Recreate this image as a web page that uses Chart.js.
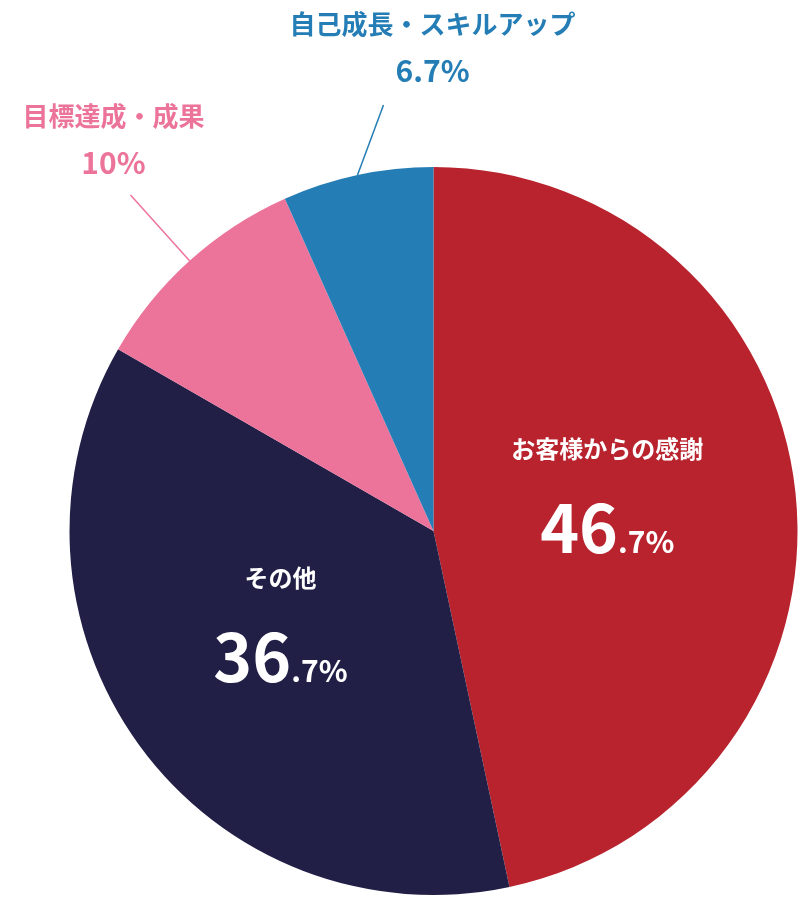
<!DOCTYPE html>
<html lang="ja">
<head>
<meta charset="UTF-8">
<title>Pie</title>
<script src="https://cdn.jsdelivr.net/npm/chart.js"></script>
<style>
  body { margin: 0; background: #fff; }
  #wrap { width: 799px; height: 897px; }
</style>
</head>
<body>
<div id="wrap"><canvas id="pie" width="799" height="897"></canvas></div>
<script>
const categories = ['お客様からの感謝', 'その他', '目標達成・成果', '自己成長・スキルアップ'];
const values = [46.7, 36.7, 10, 6.7];
const valueLabels = ['46.7%', '36.7%', '10%', '6.7%'];
const colors = ['#b8232e', '#221f47', '#ec749b', '#247db5'];

const FONT = '"Noto Sans CJK JP", "Noto Sans", sans-serif';

// inside label: title + big integer part + smaller decimal part
function insideLabel(ctx, x, y, title, val) {
    ctx.fillStyle = '#fff';
    ctx.textBaseline = 'alphabetic';
    ctx.textAlign = 'center';
    ctx.font = 'bold 24px ' + FONT;
    ctx.fillText(title, x, y - 55);
    const dot = val.indexOf('.');
    const big = val.slice(0, dot), small = val.slice(dot);
    ctx.font = 'bold 66px ' + FONT;
    const wb = ctx.measureText(big).width;
    ctx.font = 'bold 30px ' + FONT;
    const ws = ctx.measureText(small).width;
    const left = x - (wb + ws) / 2;
    ctx.textAlign = 'left';
    ctx.font = 'bold 66px ' + FONT;
    ctx.fillText(big, left, y + 40);
    ctx.font = 'bold 30px ' + FONT;
    ctx.fillText(small, left + wb, y + 40);
}

const labelPlugin = {
    id: 'labels',
    afterDraw(chart) {
        const ctx = chart.ctx;
        const arcs = chart.getDatasetMeta(0).data;
        const cx = arcs[0].x, cy = arcs[0].y, r = arcs[0].outerRadius;
        ctx.save();
        [[0, 0.48, 0.0], [1, 0.52, 0.0]].forEach(([i, f]) => {
            const a = arcs[i];
            const mid = (a.startAngle + a.endAngle) / 2;
            insideLabel(ctx, cx + Math.cos(mid) * r * f, cy + Math.sin(mid) * r * f, categories[i], valueLabels[i]);
        });
        // outside labels with leader lines
        const outside = [
            { i: 2, end: [cx - 303, cy - 336], tx: cx - 320, ty: cy - 405 },
            { i: 3, end: [cx - 50, cy - 426], tx: cx - 1, ty: cy - 497 }
        ];
        outside.forEach(o => {
            const a = arcs[o.i];
            const mid = (a.startAngle + a.endAngle) / 2;
            ctx.strokeStyle = colors[o.i];
            ctx.lineWidth = 1.5;
            ctx.beginPath();
            ctx.moveTo(cx + Math.cos(mid) * r, cy + Math.sin(mid) * r);
            ctx.lineTo(o.end[0], o.end[1]);
            ctx.stroke();
            ctx.fillStyle = colors[o.i];
            ctx.textAlign = 'center';
            ctx.font = 'bold 26px ' + FONT;
            ctx.fillText(categories[o.i], o.tx, o.ty);
            ctx.font = 'bold 30px ' + FONT;
            ctx.fillText(valueLabels[o.i], o.tx, o.ty + 48);
        });
        ctx.restore();
    }
};

new Chart(document.getElementById('pie'), {
    type: 'pie',
    data: {
        labels: categories,
        datasets: [{ data: values, backgroundColor: colors, borderWidth: 0 }]
    },
    options: {
        responsive: false,
        animation: false,
        layout: { padding: { left: 68, right: 0, top: 167, bottom: 2 } },
        plugins: { legend: { display: false }, tooltip: { enabled: false } }
    },
    plugins: [labelPlugin]
});
</script>
</body>
</html>
